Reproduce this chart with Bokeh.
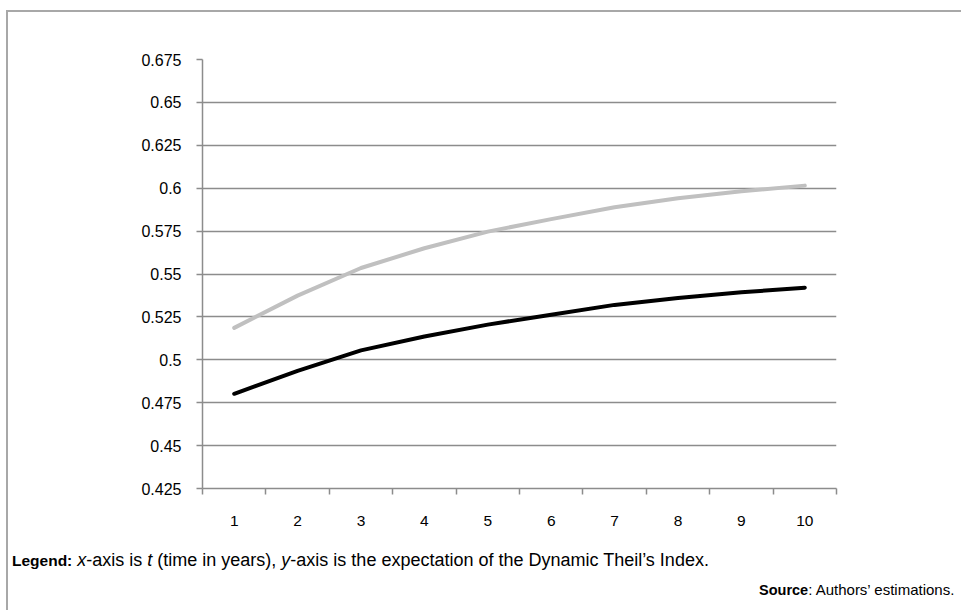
from bokeh.plotting import figure
from bokeh.models import FixedTicker, Range1d, Div
from bokeh.layouts import column, row
from bokeh.embed import file_html
from bokeh.resources import INLINE

# ---- data ----
years = [1, 2, 3, 4, 5, 6, 7, 8, 9, 10]
x_tick_labels = ["1", "2", "3", "4", "5", "6", "7", "8", "9", "10"]
grey_series = [0.5186, 0.5374, 0.5535, 0.5650, 0.5747, 0.5820, 0.5889, 0.5941, 0.5982, 0.6015]
black_series = [0.4802, 0.4936, 0.5055, 0.5136, 0.5205, 0.5263, 0.5320, 0.5360, 0.5393, 0.5420]
y_ticks = [0.425, 0.45, 0.475, 0.5, 0.525, 0.55, 0.575, 0.6, 0.625, 0.65, 0.675]
y_tick_labels = ["0.425", "0.45", "0.475", "0.5", "0.525", "0.55", "0.575", "0.6", "0.625", "0.65", "0.675"]
legend_html = ("<b style='font-size:15.5px'>Legend:</b> <i>x</i>-axis is <i>t</i> (time in years), "
               "<i>y</i>-axis is the expectation of the Dynamic Theil\u2019s Index.")
source_html = "<b style='font-size:14.5px'>Source</b>: Authors\u2019 estimations."

FONT = "Liberation Sans"
GRID = "#8c8c8c"
FRAME = "#a8a8a8"

W, H = 940, 530
p = figure(width=W, height=H, output_backend="svg", toolbar_location=None,
           x_range=Range1d(0.5, 10.5), y_range=Range1d(0.425, 0.675),
           min_border_left=194, min_border_right=W - 828, min_border_top=47,
           min_border_bottom=H - 476, margin=0)
p.outline_line_color = None
p.background_fill_color = "white"
p.border_fill_color = "white"

p.line(years, grey_series, line_color="#c0c0c0", line_width=4, line_cap="round", line_join="round")
p.line(years, black_series, line_color="#000000", line_width=4, line_cap="round", line_join="round")

# x axis: labels at centres, ticks at category boundaries
xa = p.xaxis[0]
xa.ticker = FixedTicker(ticks=years, minor_ticks=[v - 0.5 for v in years] + [10.5])
xa.major_label_overrides = {float(v): s for v, s in zip(years, x_tick_labels)}
xa.major_tick_line_color = None
xa.minor_tick_in = 0
xa.minor_tick_out = 6
xa.minor_tick_line_color = GRID
xa.minor_tick_line_width = 1.5
xa.axis_line_color = GRID
xa.axis_line_width = 1.5
xa.major_label_text_font = FONT
xa.major_label_text_font_size = "15.5px"
xa.major_label_text_color = "#000000"
xa.major_label_standoff = 21

ya = p.yaxis[0]
ya.ticker = FixedTicker(ticks=y_ticks, minor_ticks=[])
ya.major_label_overrides = {v: s for v, s in zip(y_ticks, y_tick_labels)}
ya.major_tick_in = 0
ya.major_tick_out = 6
ya.major_tick_line_color = GRID
ya.major_tick_line_width = 1.5
ya.minor_tick_line_color = None
ya.axis_line_color = GRID
ya.axis_line_width = 1.5
ya.major_label_text_font = FONT
ya.major_label_text_font_size = "16px"
ya.major_label_text_color = "#000000"
ya.major_label_standoff = 15

p.xgrid.grid_line_color = None
p.ygrid.grid_line_color = GRID
p.ygrid.grid_line_width = 1.5

DW, DH = 946, 68
notes = Div(
    width=DW, height=DH, margin=0,
    text=(
        f"<div style=\"position:relative;width:{DW}px;height:{DH}px;font-family:'{FONT}';color:#000;\">"
        f"<div style='position:absolute;left:4px;top:7px;line-height:22px;font-size:18px;white-space:nowrap;'>{legend_html}</div>"
        f"<div style='position:absolute;left:751px;top:38px;line-height:20px;font-size:15px;white-space:nowrap;'>{source_html}</div>"
        "</div>"
    ),
)

# outer frame: only its top and left edges are visible in the source image
top_edge = Div(width=955, height=2, margin=0, styles={"background-color": FRAME})
left_edge = Div(width=2, height=H + DH, margin=0, styles={"background-color": FRAME})

layout = column(top_edge, row(left_edge, column(p, notes, spacing=0), spacing=0),
                margin=(10, 0, 0, 6), spacing=0)

open("out.html", "w").write(file_html(layout, INLINE))
